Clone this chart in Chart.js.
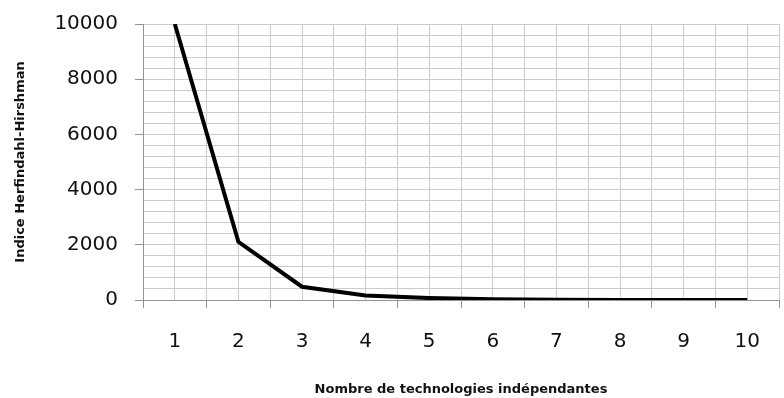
<!DOCTYPE html>
<html>
<head>
<meta charset="utf-8">
<script src="https://cdn.jsdelivr.net/npm/chart.js@4/dist/chart.umd.min.js"></script>
<style>
  html, body { margin: 0; padding: 0; background: #fff; }
  #graphique { display: block; }
</style>
</head>
<body>
<canvas id="graphique" width="784" height="398"></canvas>
<script>
// Nombre de technologies et indice HHI correspondant
const nbTechnologies = [1, 2, 3, 4, 5, 6, 7, 8, 9, 10];
const indiceHHI = [10000, 2110, 480, 160, 70, 25, 10, 4, 2, 1];
const graduationsY = [0, 2000, 4000, 6000, 8000, 10000];

const couleurGrille = '#cccccc';
const couleurAxe = '#939393';
const policeTexte = "'DejaVu Sans', 'Liberation Sans', sans-serif";

const points = nbTechnologies.map((n, i) => ({ x: n, y: indiceHHI[i] }));

const ctx = document.getElementById('graphique').getContext('2d');
new Chart(ctx, {
    type: 'line',
    data: {
        datasets: [{
            data: points,
            borderColor: '#000',
            borderWidth: 4,
            pointRadius: 0,
            tension: 0,
            fill: false
        }]
    },
    options: {
        responsive: false,
        animation: false,
        devicePixelRatio: 1,
        layout: { padding: { top: 24, right: 5, left: 0, bottom: 0 } },
        plugins: { legend: { display: false }, tooltip: { enabled: false } },
        scales: {
            x: {
                type: 'linear',
                min: 0.5,
                max: 10.5,
                afterFit: s => { s.height = 98; s.paddingLeft = 0; s.paddingRight = 0; },
                border: { color: couleurAxe, width: 1 },
                grid: {
                    color: couleurGrille,
                    lineWidth: 1,
                    tickLength: 8,
                    // petits traits seulement entre les catégories
                    tickColor: c => (c.tick && c.tick.value % 1 !== 0) ? couleurAxe : 'rgba(0,0,0,0)'
                },
                ticks: {
                    stepSize: 0.5,
                    autoSkip: false,
                    maxRotation: 0,
                    padding: 22,
                    color: '#111',
                    font: { family: policeTexte, size: 20 },
                    callback: v => nbTechnologies.includes(v) ? String(v) : ''
                },
                title: {
                    display: true,
                    text: 'Nombre de technologies indépendantes',
                    color: '#111',
                    font: { family: policeTexte, size: 13, weight: 'bold' },
                    padding: { top: 0, bottom: 1 }
                }
            },
            y: {
                min: 0,
                max: 10000,
                afterFit: s => { s.width = 143; s.paddingTop = 0; s.paddingBottom = 0; },
                border: { color: couleurAxe, width: 1 },
                grid: {
                    color: couleurGrille,
                    lineWidth: 1,
                    tickLength: 8,
                    tickColor: c => (c.tick && graduationsY.includes(c.tick.value)) ? couleurAxe : 'rgba(0,0,0,0)'
                },
                ticks: {
                    stepSize: 400,
                    autoSkip: false,
                    padding: 17,
                    color: '#111',
                    font: { family: policeTexte, size: 20 },
                    callback: v => graduationsY.includes(v) ? String(v) : ''
                },
                title: {
                    display: true,
                    text: 'Indice Herfindahl-Hirshman',
                    color: '#111',
                    font: { family: policeTexte, size: 13, weight: 'bold' },
                    padding: { top: 13, bottom: 0 }
                }
            }
        }
    }
});
</script>
</body>
</html>
